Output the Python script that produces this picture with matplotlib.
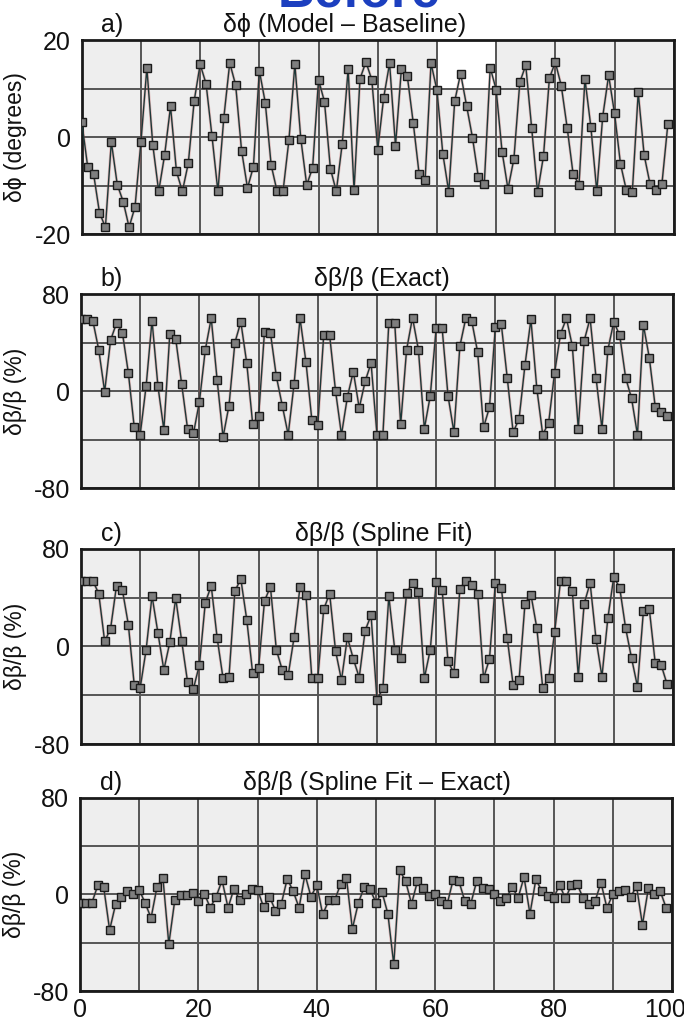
import numpy as np
import matplotlib
matplotlib.use('Agg')
import matplotlib.pyplot as plt
import matplotlib.patches as patches

plt.rcParams['font.family'] = ['Liberation Sans', 'DejaVu Sans']

# sample index along the profile
x = np.arange(100)

# a) d-phi (Model - Baseline), degrees
dphi = [3.2, -6.1, -7.6, -15.6, -18.6, -1.0, -9.8, -13.3, -18.6, -14.4,
        -1.0, 14.2, -1.6, -11.2, -3.7, 6.3, -7.1, -11.2, -5.4, 7.5,
        15.0, 11.0, 0.2, -11.2, 4.0, 15.3, 10.7, -2.8, -10.5, -6.1,
        13.7, 7.1, -5.8, -11.2, -11.2, -0.6, 15.0, -0.3, -9.9, -6.3,
        11.8, 7.3, -6.5, -11.2, -1.4, 14.0, -10.9, 12.0, 15.5, 11.8,
        -2.6, 8.1, 15.2, -1.8, 14.1, 12.5, 2.9, -7.7, -8.9, 15.2,
        9.7, -3.5, -11.3, 7.4, 13.1, 6.5, -0.1, -8.3, -9.6, 14.3,
        9.8, -3.0, -10.7, -4.5, 11.3, 14.8, 1.9, -11.4, -3.9, 12.2,
        15.4, 10.6, 1.9, -7.6, -9.8, 12.0, 2.1, -11.2, 4.2, 12.7,
        4.9, -5.5, -11.0, -11.4, 9.2, -3.7, -9.7, -11.0, -9.7, 2.6]

# b) d-beta/beta (Exact), %
exact = [59, 59, 58, 34, -0.5, 42, 56, 48, 15, -30,
         -36, 4, 58, 4, -32, 47, 43, 6, -31, -35,
         -9, 34, 60, 9, -38, -12, 40, 57, 23, -27,
         -21, 49, 48, 12, -12, -36, 6, 60, 24, -24,
         -28, 46, 46, 0, -36, -5, 16, -14, 8, 23,
         -36, -36, 56, 56, -27.5, 34, 60.5, 34, -31, -4,
         52, 52, -4, -34, 37, 60, 58, 32, -30, -13.5,
         53, 55, 11, -34, -23, 21.5, 59, 2, -36, -26,
         15, 47, 60, 37, -31, 41.5, 60, 11, -31, 34,
         57, 46, 11, -6, -36, 54.5, 27.5, -13, -17, -21]

# c) d-beta/beta (Spline Fit), %
spline = [53.8, 53.8, 53.8, 43.3, 4.1, 14.6, 49.7, 46.1, 17.9, -31.7,
          -34.0, -2.8, 41.4, 11.0, -19.3, 3.3, 39.5, 4.7, -29.0, -34.5,
          -15.2, 35.9, 49.7, 6.9, -26.2, -24.8, 45.5, 55.2, 22.0, -22.0,
          -17.4, 37.3, 48.9, -2.8, -19.3, -23.5, 7.5, 48.9, 42.0, -26.2,
          -26.2, 30.4, 43.3, -3.6, -27.6, 7.5, -10.2, -25.5, 13.0, 25.5,
          -43.8, -34.2, 41.1, -2.7, -9.6, 43.8, 52.0, 44.4, -26.0, -2.7,
          52.6, 46.6, -12.3, -21.9, 47.1, 53.4, 50.7, 43.3, -26.0, -10.4,
          52.0, 48.0, 6.9, -31.5, -27.4, 35.1, 42.5, 15.1, -34.2, -26.0,
          11.5, 53.4, 53.4, 45.2, -24.7, 35.1, 52.0, 6.0, -24.7, 23.3,
          57.0, 48.0, 15.0, -9.6, -32.9, 28.8, 30.7, -13.7, -15.1, -31.0]

# d) d-beta/beta (Spline Fit - Exact), %
diff = [-7.0, -7.0, -7.0, 7.5, 6.0, -29.4, -8.3, -1.7, 2.8, 0.6,
        3.9, -7.2, -19.4, 6.1, 13.9, -41.0, -5.0, -0.8, -0.8, 1.1,
        -5.5, 0.6, -11.0, -1.7, 11.6, -11.0, 4.7, -5.0, 0.6, 4.7,
        3.9, -10.5, -1.7, -13.3, -7.8, 13.0, 2.8, -11.0, 16.6, -1.7,
        7.5, -16.6, -5.0, -5.0, 8.3, 13.9, -28.5, -7.2, 6.0, 4.2,
        -6.9, 2.2, -16.0, -58.0, 20.0, 11.0, -7.8, 11.0, 5.5, -1.4,
        0.0, -5.5, -8.3, 11.6, 11.0, -5.5, -7.8, 11.0, 5.0, 4.2,
        0.6, -5.5, -2.8, 6.1, -2.8, 14.4, -16.0, 12.5, 2.8, -1.4,
        -2.8, 7.8, -3.3, 7.8, 8.3, -3.3, -8.3, -5.5, 9.7, -11.0,
        0.0, 2.8, 3.3, -2.2, 6.9, -25.0, 5.0, 0.6, 2.8, -11.0]

series = [dphi, exact, spline, diff]
letters = ['a)', 'b)', 'c)', 'd)']
titles = [u'\u03b4\u03d5 (Model \u2013 Baseline)', u'\u03b4\u03b2/\u03b2 (Exact)',
          u'\u03b4\u03b2/\u03b2 (Spline Fit)', u'\u03b4\u03b2/\u03b2 (Spline Fit \u2013 Exact)']
ylabels = [u'\u03b4\u03d5 (degrees)', u'\u03b4\u03b2/\u03b2 (%)', u'\u03b4\u03b2/\u03b2 (%)', u'\u03b4\u03b2/\u03b2 (%)']
ylims = [20, 80, 80, 80]
xticklabels = ['0', '', '20', '', '40', '', '60', '', '80', '', '']

fig = plt.figure(figsize=(6.84, 10.22), dpi=100)

# axes boxes in figure fractions (left, bottom, width, height)
boxes = [(0.1195, 0.7710, 0.8655, 0.1898),
         (0.1184, 0.5225, 0.8655, 0.1898),
         (0.1184, 0.2720, 0.8655, 0.1910),
         (0.1170, 0.0303, 0.8655, 0.1890)]
title_x = [0.444, 0.508, 0.512, 0.502]

for n in range(4):
    ax = fig.add_axes(boxes[n])
    lim = ylims[n]
    ax.set_facecolor('#eeeeee')
    ax.set_xlim(0, 100)
    ax.set_ylim(-lim, lim)
    ax.set_xticks(np.arange(0, 101, 10))
    ax.set_yticks([-lim, -lim / 2, 0, lim / 2, lim])
    ax.set_yticklabels(['-%d' % lim, '', '0', '', '%d' % lim])
    if n == 3:
        ax.set_xticklabels(xticklabels)
        # the "100" sits a little inside the right edge in the original
        ax.annotate('100', xy=(100, -lim), xytext=(-5, -5), textcoords='offset points',
                    ha='center', va='top', fontsize=18, color='#111111', annotation_clip=False)
    else:
        ax.set_xticklabels([])
    ax.tick_params(axis='y', length=0, labelsize=18, pad=8, colors='#111111')
    ax.tick_params(axis='x', length=0, labelsize=18, pad=5, colors='#111111')
    ax.grid(True, color='#555555', lw=1.4, zorder=1)
    for sp in ax.spines.values():
        sp.set_linewidth(2.0)
        sp.set_color('#1a1a1a')
    # scanned-out (white) cells
    if n == 0:
        ax.add_patch(patches.Rectangle((60, 10), 10, 10, facecolor='white', edgecolor='none', zorder=0.5))
    if n == 2:
        ax.add_patch(patches.Rectangle((30, -80), 10, 40, facecolor='white', edgecolor='none', zorder=0.5))
    ax.set_axisbelow(True)

    ax.plot(x, series[n], color='#c05050', lw=2.0, alpha=0.35, zorder=2)
    ax.plot(x, series[n], color='#1e3838', lw=1.0, marker='s', markersize=5.2,
            markerfacecolor='#7e7e7e', markeredgecolor='#1a1a1a', markeredgewidth=1.0, zorder=3)

    ax.text(0.052, 1.015, letters[n], transform=ax.transAxes, ha='center', va='bottom', fontsize=18, color='#111111')
    ax.text(title_x[n], 1.015, titles[n], transform=ax.transAxes, ha='center', va='bottom', fontsize=18, color='#111111')
    ax.set_ylabel(ylabels[n], fontsize=16.5, color='#111111')
    ax.yaxis.set_label_coords(-0.092, 0.5)

fig.text(0.524, 1 - 6 / 1022, 'Before', ha='center', va='baseline', fontsize=37,
         fontweight='bold', color='#1c3fbf')

fig.savefig('out.png', dpi=100)
